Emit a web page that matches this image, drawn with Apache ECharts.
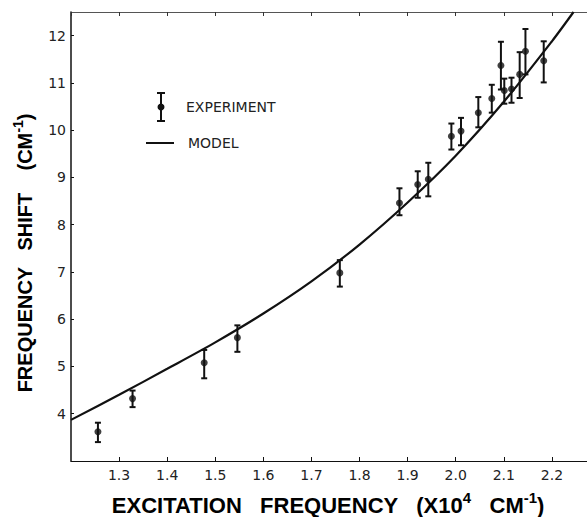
<!DOCTYPE html>
<html>
<head>
<meta charset="utf-8">
<script src="https://cdn.jsdelivr.net/npm/echarts@6/dist/echarts.min.js"></script>
<style>html,body{margin:0;padding:0;background:#fff;}#c{width:587px;height:517px;}</style>
</head>
<body>
<div id="c"></div>
<script>
// Experimental data (excitation frequency x10^4 cm^-1, frequency shift cm^-1)
const expX    = [1.256, 1.328, 1.477, 1.546, 1.759, 1.883, 1.921, 1.943, 1.991, 2.011, 2.047, 2.075, 2.094, 2.101, 2.116, 2.133, 2.145, 2.183];
const expY    = [3.62, 4.32, 5.08, 5.61, 6.98, 8.46, 8.85, 8.96, 9.87, 9.98, 10.37, 10.67, 11.37, 10.84, 10.87, 11.18, 11.67, 11.47];
const expLow  = [3.40, 4.14, 4.75, 5.31, 6.69, 8.20, 8.57, 8.60, 9.59, 9.68, 10.06, 10.37, 10.86, 10.56, 10.58, 10.68, 11.18, 11.01];
const expHigh = [3.81, 4.49, 5.35, 5.87, 7.25, 8.77, 9.13, 9.31, 10.14, 10.26, 10.70, 10.96, 11.87, 11.09, 11.11, 11.65, 12.14, 11.88];
// Model curve
const modelX = [1.20, 1.30, 1.40, 1.50, 1.60, 1.70, 1.80, 1.90, 2.00, 2.10, 2.20, 2.245];
const modelY = [3.87, 4.40, 4.95, 5.51, 6.12, 6.80, 7.58, 8.47, 9.46, 10.60, 11.88, 12.50];
// Axis texts
const xTitle = '{b|EXCITATION   FREQUENCY   (X10}{s|4}{b|   CM}{s|-1}{b|)}';
const yTitle = '{b|FREQUENCY   SHIFT    (CM}{s|-1}{b|)}';
const legendLabels = ['EXPERIMENT', 'MODEL'];

const chart = echarts.init(document.getElementById('c'), null, {renderer: 'svg'});
const ink = '#111';
const labelFont = {fontFamily: 'DejaVu Sans', fontSize: 14, color: '#222'};
const xRich = {
  b: {fontFamily: 'Liberation Sans', fontWeight: 'bold', fontSize: 22, color: ink, lineHeight: 26, verticalAlign: 'bottom'},
  s: {fontFamily: 'Liberation Sans', fontWeight: 'bold', fontSize: 15, color: ink, lineHeight: 26, verticalAlign: 'top'}
};
const yRich = {
  b: {fontFamily: 'Liberation Sans', fontWeight: 'bold', fontSize: 20, color: ink, lineHeight: 24, verticalAlign: 'bottom'},
  s: {fontFamily: 'Liberation Sans', fontWeight: 'bold', fontSize: 14, color: ink, lineHeight: 24, verticalAlign: 'top'}
};

const errData = expX.map((x, i) => [x, expY[i], expLow[i], expHigh[i]]);
const ptData = expX.map((x, i) => [x, expY[i]]);
const modelData = modelX.map((x, i) => [x, modelY[i]]);

chart.setOption({
  animation: false,
  grid: {left: 71, right: 0, top: 12, bottom: 56},
  xAxis: [{
    type: 'value', min: 1.2, max: 2.273, interval: 0.1,
    axisLine: {lineStyle: {color: ink, width: 1.2}},
    axisTick: {inside: true, length: 4, lineStyle: {color: ink}},
    axisLabel: Object.assign({margin: 7, showMinLabel: false, showMaxLabel: false, formatter: v => v.toFixed(1)}, labelFont),
    splitLine: {show: false}
  }, {
    type: 'value', position: 'top', min: 1.2, max: 2.273, interval: 0.1,
    axisLine: {show: true, lineStyle: {color: '#555', width: 1}},
    axisTick: {inside: true, length: 4, lineStyle: {color: '#333'}},
    axisLabel: {show: false},
    splitLine: {show: false}
  }],
  yAxis: {
    type: 'value', min: 3, max: 12.5, interval: 1,
    axisLine: {show: true, lineStyle: {color: ink, width: 1.5}},
    axisTick: {show: true, inside: true, length: 3, lineStyle: {color: ink}},
    axisLabel: Object.assign({margin: 5, showMinLabel: false, showMaxLabel: false}, labelFont),
    splitLine: {show: false}
  },
  series: [{
    type: 'line', data: modelData, smooth: 0.3, showSymbol: false,
    lineStyle: {color: ink, width: 2.2}, z: 2
  }, {
    type: 'custom', data: errData, encode: {x: 0, y: [2, 3]}, z: 3,
    renderItem: function (params, api) {
      const x = api.value(0);
      const top = api.coord([x, api.value(3)]);
      const bot = api.coord([x, api.value(2)]);
      const w = 3;
      const st = {stroke: ink, lineWidth: 2};
      return {type: 'group', children: [
        {type: 'line', shape: {x1: top[0], y1: top[1], x2: bot[0], y2: bot[1]}, style: st},
        {type: 'line', shape: {x1: top[0] - w, y1: top[1], x2: top[0] + w, y2: top[1]}, style: st},
        {type: 'line', shape: {x1: bot[0] - w, y1: bot[1], x2: bot[0] + w, y2: bot[1]}, style: st}
      ]};
    }
  }, {
    type: 'scatter', data: ptData, symbol: 'circle', symbolSize: 7,
    itemStyle: {color: ink}, z: 4
  }],
  graphic: [
    {type: 'text', x: 328, y: 503, style: {text: xTitle, rich: xRich, align: 'center', verticalAlign: 'middle'}},
    {type: 'text', x: 23, y: 253, rotation: Math.PI / 2, style: {text: yTitle, rich: yRich, align: 'center', verticalAlign: 'middle'}},
    // legend: experiment
    {type: 'line', shape: {x1: 161, y1: 93, x2: 161, y2: 121}, style: {stroke: ink, lineWidth: 2}},
    {type: 'line', shape: {x1: 157, y1: 93, x2: 165, y2: 93}, style: {stroke: ink, lineWidth: 2}},
    {type: 'line', shape: {x1: 157, y1: 121, x2: 165, y2: 121}, style: {stroke: ink, lineWidth: 2}},
    {type: 'circle', shape: {cx: 161, cy: 107, r: 3.5}, style: {fill: ink}},
    {type: 'text', x: 186, y: 107, style: {text: legendLabels[0], fontFamily: 'DejaVu Sans', fontSize: 14, fill: '#222', verticalAlign: 'middle'}},
    // legend: model
    {type: 'line', shape: {x1: 146, y1: 143, x2: 174, y2: 143}, style: {stroke: ink, lineWidth: 2}},
    {type: 'text', x: 188, y: 143, style: {text: legendLabels[1], fontFamily: 'DejaVu Sans', fontSize: 14, fill: '#222', verticalAlign: 'middle'}}
  ]
});
</script>
</body>
</html>
